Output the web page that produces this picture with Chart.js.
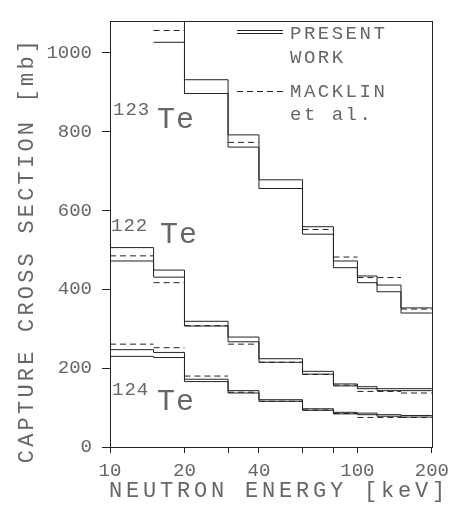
<!DOCTYPE html>
<html>
<head>
<meta charset="utf-8">
<script src="https://cdn.jsdelivr.net/npm/chart.js@4"></script>
<style>
  html, body { margin: 0; padding: 0; background: #fff; }
  #wrap { width: 456px; height: 508px; }
</style>
</head>
<body>
<div id="wrap"><canvas id="myChart"></canvas></div>
<script>
// bin edges (keV)
const binEdges = [10, 15, 20, 30, 40, 60, 80, 100, 120, 150, 200];
const macklinEdges = [10, 15, 20, 30, 40, 60, 80, 100, 150, 200];

// present work, upper / lower bounds (mb)
const te123High = [null, 1100, 932, 792, 678, 559, 472, 434, 411, 353];
const te123Low  = [null, 1027, 897, 761, 656, 540, 455, 417, 394, 340];
const te122High = [506, 449, 319, 279, 224, 192, 160, 153, 148, 148];
const te122Low  = [472, 431, 307, 267, 215, 185, 155, 148, 143, 143];
const te124High = [247, 240, 172, 143, 120, 97, 88, 86, 82, 80];
const te124Low  = [230, 227, 166, 137, 116, 93, 84, 82, 78, 76];

// Macklin et al.
const te123Macklin = [null, 1057, 897, 773, 656, 552, 482, 430, 350];
const te122Macklin = [485, 417, 308, 261, 215, 184, 157, 141, 137];
const te124Macklin = [261, 252, 180, 139, 116, 94, 85, 75, 75];

const xTicks = [10, 20, 30, 40, 60, 80, 100, 200];
const xLabels = [10, 20, 40, 100, 200];
const yTicks = [0, 200, 400, 600, 800, 1000];

const lineColor = '#222';
const textColor = '#666';

function stepPoints (vals) {
  return binEdges.map((e, i) => ({x: e, y: i < vals.length ? vals[i] : vals[vals.length - 1]}));
}

function segPoints (vals) {
  let pts = [];
  for (let i = 0; i < vals.length; i++) {
    pts.push({x: macklinEdges[i], y: vals[i]});
    pts.push({x: macklinEdges[i + 1], y: vals[i]});
    pts.push({x: macklinEdges[i + 1], y: null});
  }
  return pts;
}

function solid (label, vals) {
  return {label, data: stepPoints(vals), stepped: true, borderColor: lineColor,
    borderWidth: 1, pointRadius: 0, fill: false, spanGaps: false};
}

function dashed (label, vals) {
  return {label, data: segPoints(vals), borderColor: lineColor, borderDash: [6, 4],
    borderWidth: 1, pointRadius: 0, fill: false, spanGaps: false};
}

const decor = {
  id: 'decor',
  afterDraw (chart) {
    const {ctx, chartArea: a} = chart;
    ctx.save();
    ctx.strokeStyle = lineColor;
    ctx.lineWidth = 1;
    ctx.strokeRect(Math.round(a.left) + 0.5, Math.round(a.top) + 0.5,
      Math.round(a.right - a.left), Math.round(a.bottom - a.top));

    // legend
    ctx.beginPath();
    ctx.moveTo(237, 30.5); ctx.lineTo(283, 30.5);
    ctx.moveTo(237, 33.5); ctx.lineTo(283, 33.5);
    ctx.stroke();
    ctx.setLineDash([6, 4]);
    ctx.beginPath();
    ctx.moveTo(237, 91.5); ctx.lineTo(283, 91.5);
    ctx.stroke();
    ctx.setLineDash([]);

    ctx.fillStyle = textColor;
    ctx.textBaseline = 'alphabetic';
    ctx.textAlign = 'left';
    ctx.font = '19px "Liberation Mono"';
    ctx.letterSpacing = '2.5px';
    ctx.fillText('PRESENT', 290, 39);
    ctx.fillText('WORK', 290, 63);
    ctx.fillText('MACKLIN', 290, 97);
    ctx.fillText('et al.', 290, 120);

    // isotope labels
    ctx.letterSpacing = '1px';
    const iso = [['123', 113, 115, 157, 128], ['122', 111, 231, 160, 243], ['124', 112, 395, 157, 410]];
    for (const [m, mx, my, tx, ty] of iso) {
      ctx.font = '19px "Liberation Mono"';
      ctx.fillText(m, mx, my);
      ctx.font = '30px "Liberation Mono"';
      ctx.fillText('Te', tx, ty);
    }

    // axis titles
    ctx.font = '22px "Liberation Mono"';
    ctx.letterSpacing = '3.8px';
    ctx.textAlign = 'center';
    ctx.fillText('NEUTRON ENERGY [keV]', 279, 497);
    ctx.translate(33, 250);
    ctx.rotate(-Math.PI / 2);
    ctx.letterSpacing = '3.2px';
    ctx.fillText('CAPTURE CROSS SECTION [mb]', 0, 0);
    ctx.restore();
  }
};

const ctx = document.getElementById('myChart');

new Chart(ctx, {
  type: 'line',
  data: {
    datasets: [
      solid('123Te present high', te123High),
      solid('123Te present low', te123Low),
      dashed('123Te Macklin', te123Macklin),
      solid('122Te present high', te122High),
      solid('122Te present low', te122Low),
      dashed('122Te Macklin', te122Macklin),
      solid('124Te present high', te124High),
      solid('124Te present low', te124Low),
      dashed('124Te Macklin', te124Macklin)
    ]
  },
  options: {
    responsive: true,
    maintainAspectRatio: false,
    animation: false,
    layout: {padding: {left: 0, top: 15, right: 23, bottom: 0}},
    plugins: {legend: {display: false}, tooltip: {enabled: false}},
    scales: {
      x: {
        type: 'logarithmic',
        min: 10,
        max: 200,
        afterBuildTicks (scale) { scale.ticks = xTicks.map(v => ({value: v})); },
        afterFit (scale) { scale.height = 61; },
        ticks: {
          autoSkip: false,
          maxRotation: 0,
          padding: 7,
          color: textColor,
          font: {family: 'Liberation Mono', size: 19},
          callback: (v) => xLabels.includes(v) ? String(v) : ''
        },
        grid: {drawOnChartArea: false, drawTicks: true, tickLength: 6, color: lineColor},
        border: {display: true, color: lineColor}
      },
      y: {
        min: 0,
        max: 1080,
        afterBuildTicks (scale) { scale.ticks = yTicks.map(v => ({value: v})); },
        afterFit (scale) { scale.width = 110; },
        ticks: {
          padding: 10,
          color: textColor,
          font: {family: 'Liberation Mono', size: 19},
          callback: (v) => String(v)
        },
        grid: {drawOnChartArea: false, drawTicks: true, tickLength: 8, color: lineColor},
        border: {display: true, color: lineColor}
      }
    }
  },
  plugins: [decor]
});
</script>
</body>
</html>
